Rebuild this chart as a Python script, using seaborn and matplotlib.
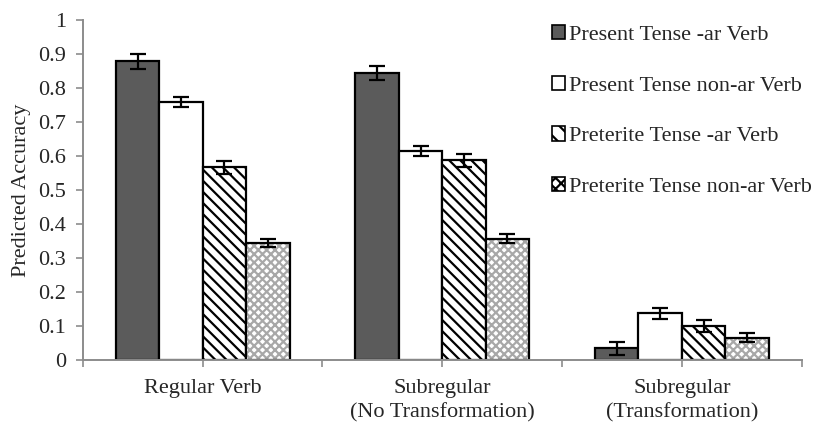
import numpy as np
import pandas as pd
import matplotlib
matplotlib.use("Agg")
import matplotlib.pyplot as plt
import seaborn as sns
from matplotlib.patches import Patch
from matplotlib.ticker import FixedLocator

categories = ["Regular Verb", "Subregular\n(No Transformation)", "Subregular\n(Transformation)"]
series = ["Present Tense -ar Verb", "Present Tense non-ar Verb",
          "Preterite Tense -ar Verb", "Preterite Tense non-ar Verb"]
present_ar = [0.879, 0.843, 0.034]
present_nonar = [0.759, 0.615, 0.137]
preterite_ar = [0.566, 0.587, 0.100]
preterite_nonar = [0.343, 0.356, 0.065]
err_present_ar = [0.022, 0.020, 0.020]
err_present_nonar = [0.015, 0.015, 0.017]
err_preterite_ar = [0.020, 0.020, 0.018]
err_preterite_nonar = [0.012, 0.013, 0.013]
yticks = [0, 0.1, 0.2, 0.3, 0.4, 0.5, 0.6, 0.7, 0.8, 0.9, 1]
ytick_labels = ["0", "0.1", "0.2", "0.3", "0.4", "0.5", "0.6", "0.7", "0.8", "0.9", "1"]

values = [present_ar, present_nonar, preterite_ar, preterite_nonar]
errors = [err_present_ar, err_present_nonar, err_preterite_ar, err_preterite_nonar]

rows = []
for s, vals, errs in zip(series, values, errors):
    for c, v, e in zip(categories, vals, errs):
        rows.append({"category": c, "series": s, "value": v, "err": e})
df = pd.DataFrame(rows)

sns.set_theme(style="white")
plt.rcParams["font.family"] = ["Liberation Serif", "DejaVu Serif"]
plt.rcParams["hatch.linewidth"] = 1.6

fig = plt.figure(figsize=(8.13, 4.23), dpi=100)
ax = fig.add_axes([0.102, 0.149, 0.884, 0.804])

dark = "#5b5b5b"
palette = {series[0]: dark, series[1]: "white", series[2]: "white", series[3]: "white"}
sns.barplot(data=df, x="category", y="value", hue="series", order=categories,
            hue_order=series, palette=palette, width=0.725, errorbar=None,
            edgecolor="black", linewidth=1.6, ax=ax, legend=False, saturation=1)

hatches = [None, None, "\\\\\\", "xxxx"]
for container, s, h in zip(ax.containers, series, hatches):
    sub = df[df.series == s].set_index("category").loc[categories]
    for bar, (_, r) in zip(container, sub.iterrows()):
        if h == "xxxx":
            bar.set_hatch(h)
            bar.set_edgecolor("#a8a8a8")
            bar.set_linewidth(0)
            x0, w, hgt = bar.get_x(), bar.get_width(), bar.get_height()
            ax.bar(x0, hgt, width=w, align="edge", fill=False,
                   edgecolor="black", linewidth=1.6, zorder=bar.get_zorder() + 0.1)
        elif h:
            bar.set_hatch(h)
        cx = bar.get_x() + bar.get_width() / 2
        ax.errorbar(cx, r["value"], yerr=r["err"], fmt="none", ecolor="black",
                    elinewidth=1.6, capsize=6, capthick=1.6, zorder=5)

FS = 16
ax.set_xlim(-0.5, 2.5)
ax.set_ylim(0, 1)
ax.set_yticks(yticks)
ax.set_yticklabels(ytick_labels)
ax.set_xticks([0, 1, 2])
ax.set_xticklabels(categories, fontsize=FS, linespacing=1.35)
ax.xaxis.set_minor_locator(FixedLocator([-0.5, 0.5, 1.5, 2.5]))
ax.tick_params(axis="x", which="both", direction="out", length=5, width=1.2,
               color="#8c8c8c", bottom=True)
ax.tick_params(axis="x", which="major", pad=9, labelsize=FS)
ax.tick_params(axis="y", direction="out", length=5, width=1.2, color="#8c8c8c",
               left=True, labelsize=FS, pad=7)
for sp in ["top", "right"]:
    ax.spines[sp].set_visible(False)
for sp in ["left", "bottom"]:
    ax.spines[sp].set_color("#8c8c8c")
    ax.spines[sp].set_linewidth(1.4)
ax.set_xlabel("")
ax.set_ylabel("Predicted Accuracy", fontsize=FS, labelpad=5)

handles = [
    Patch(facecolor=dark, edgecolor="black", linewidth=1.2),
    Patch(facecolor="white", edgecolor="black", linewidth=1.2),
    Patch(facecolor="white", edgecolor="black", hatch="\\\\", linewidth=1.2),
    Patch(facecolor="white", edgecolor="black", hatch="xxx", linewidth=1.2),
]
ax.legend(handles, series, loc="upper left", bbox_to_anchor=(0.652, 0.985),
          frameon=False, fontsize=FS, handlelength=0.62, handleheight=0.62,
          handletextpad=0.15, labelspacing=1.38, borderpad=0, borderaxespad=0)

fig.savefig("out.png", dpi=100)
